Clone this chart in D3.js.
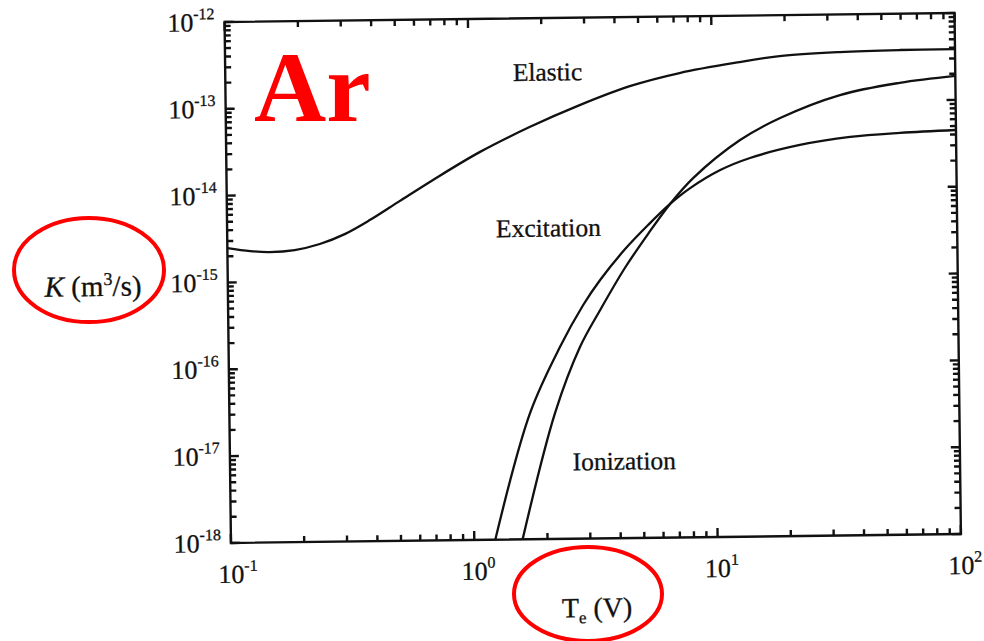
<!DOCTYPE html>
<html>
<head>
<meta charset="utf-8">
<script src="https://cdn.jsdelivr.net/npm/d3@7"></script>
<style>
  html, body { margin: 0; padding: 0; background: #fff; }
  svg { display: block; }
  text { font-family: "Liberation Serif", "Times New Roman", serif; fill: #111; }
</style>
</head>
<body>
<svg id="chart" width="984" height="641"></svg>
<script>
// ---- Data ----
const elasticT = [0.1, 0.124, 0.149, 0.189, 0.24, 0.304, 0.386, 0.513, 0.703, 1.10, 1.77, 2.85, 4.59, 7.36, 13.0, 19.0, 33.6, 59.3, 100];
const elasticK = [2.49e-15, 2.28e-15, 2.21e-15, 2.31e-15, 2.69e-15, 3.47e-15, 4.99e-15, 8.18e-15, 1.41e-14, 2.92e-14, 5.59e-14, 9.84e-14, 1.60e-13, 2.23e-13, 2.92e-13, 3.38e-13, 3.69e-13, 3.82e-13, 3.85e-13];

const excitationT = [1.22, 1.72, 2.30, 2.88, 3.39, 4.31, 5.37, 6.63, 8.03, 10.7, 14.2, 22.8, 36.7, 58.9, 100];
const excitationK = [1.0e-18, 2.84e-17, 1.62e-16, 4.9e-16, 9.46e-16, 2.13e-15, 4.0e-15, 6.95e-15, 1.05e-14, 1.68e-14, 2.29e-14, 3.18e-14, 3.87e-14, 4.24e-14, 4.5e-14];

const ionizationT = [1.58, 2.18, 2.78, 3.38, 4.29, 5.36, 6.63, 8.27, 12.95, 18.97, 33.5, 59.0, 100];
const ionizationK = [1.0e-18, 2.83e-17, 1.61e-16, 4.27e-16, 1.29e-15, 3.15e-15, 6.95e-15, 1.37e-14, 3.70e-14, 6.55e-14, 1.18e-13, 1.60e-13, 1.89e-13];

const xTickExponents = [-1, 0, 1, 2];
const yTickExponents = [-12, -13, -14, -15, -16, -17, -18];
const minorMultipliers = [1, 2, 3, 4, 5, 6, 7, 8, 9];

const seriesNames = ["Elastic", "Excitation", "Ionization"];

// ---- Layout ----
const frame = { left: 227.75, right: 957.75, top: 17.5, bottom: 538.5 };
const cx = (frame.left + frame.right) / 2, cy = (frame.top + frame.bottom) / 2;
const tilt = -0.7; // the scanned figure is slightly rotated

const svg = d3.select("#chart");

const x = d3.scaleLog().domain([0.1, 100]).range([frame.left, frame.right]);
const y = d3.scaleLog().domain([1e-18, 1e-12]).range([frame.bottom, frame.top]);

const g = svg.append("g").attr("transform", `rotate(${tilt},${cx},${cy})`);

g.append("defs").append("clipPath").attr("id", "plotclip")
  .append("rect")
  .attr("x", frame.left).attr("y", frame.top)
  .attr("width", frame.right - frame.left).attr("height", frame.bottom - frame.top);

// Tick values: every 1..9 multiple inside each decade
const xTickVals = [];
xTickExponents.forEach(e => minorMultipliers.forEach(m => {
  const v = m * Math.pow(10, e);
  if (v >= 0.1 - 1e-12 && v <= 100 + 1e-9) xTickVals.push(v);
}));
const yTickVals = [];
yTickExponents.forEach(e => minorMultipliers.forEach(m => {
  const v = m * Math.pow(10, e);
  if (v >= 1e-18 * (1 - 1e-9) && v <= 1e-12 * (1 + 1e-9)) yTickVals.push(v);
}));
const isMajor = v => Math.abs(Math.log10(v) - Math.round(Math.log10(v))) < 1e-6;

// Tick marks (inward on all four sides)
const tickRects = [];
xTickVals.forEach(v => {
  const px = x(v), len = isMajor(v) ? 9 : 6;
  tickRects.push({ x: px - 1.2, y: frame.bottom - len, w: 2.4, h: len });
  tickRects.push({ x: px - 1.2, y: frame.top, w: 2.4, h: len });
});
yTickVals.forEach(v => {
  const py = y(v), len = isMajor(v) ? 9 : 6;
  tickRects.push({ x: frame.left, y: py - 1.2, w: len, h: 2.4 });
  tickRects.push({ x: frame.right - len, y: py - 1.2, w: len, h: 2.4 });
});
g.append("g").attr("id", "ticklayer")
  .selectAll("rect").data(tickRects).join("rect")
  .attr("x", d => d.x).attr("y", d => d.y).attr("width", d => d.w).attr("height", d => d.h)
  .attr("fill", "#111");

// Frame
g.append("rect")
  .attr("x", frame.left).attr("y", frame.top)
  .attr("width", frame.right - frame.left).attr("height", frame.bottom - frame.top)
  .attr("fill", "none").attr("stroke", "#111").attr("stroke-width", 2.4);

// Tick labels
const fs = 26, fsExp = 16;
xTickExponents.forEach(e => {
  const t = g.append("text").attr("x", x(Math.pow(10, e)) - fs / 2).attr("y", frame.bottom + 40)
    .attr("font-size", fs).attr("stroke", "#111").attr("stroke-width", 0.3);
  t.append("tspan").text("10");
  t.append("tspan").attr("font-size", fsExp).attr("dy", -12).text(String(e));
});
yTickExponents.forEach(e => {
  const t = g.append("text").attr("x", frame.left - 10).attr("y", y(Math.pow(10, e)) + 9)
    .attr("font-size", fs).attr("text-anchor", "end").attr("stroke", "#111").attr("stroke-width", 0.3);
  t.append("tspan").text("10");
  t.append("tspan").attr("font-size", fsExp).attr("dy", -12).text(String(e));
});

// Curves
const line = d3.line().x(d => x(d[0])).y(d => y(d[1])).curve(d3.curveCatmullRom.alpha(0.5));
const series = [
  d3.zip(elasticT, elasticK),
  d3.zip(excitationT, excitationK),
  d3.zip(ionizationT, ionizationK)
];
g.append("g").attr("clip-path", "url(#plotclip)")
  .selectAll("path").data(series).join("path")
  .attr("d", line)
  .attr("fill", "none").attr("stroke", "#111").attr("stroke-width", 2.3);

// Curve labels
const labelPos = [[550, 80], [549, 236], [622, 470]];
seriesNames.forEach((name, i) => {
  g.append("text").attr("x", labelPos[i][0]).attr("y", labelPos[i][1])
    .attr("text-anchor", "middle").attr("font-size", 25.5)
    .attr("stroke", "#111").attr("stroke-width", 0.3).text(name);
});

// Axis titles
const yt = g.append("text").attr("x", 93).attr("y", 290).attr("text-anchor", "middle").attr("font-size", 29)
  .attr("stroke", "#111").attr("stroke-width", 0.3);
yt.append("tspan").attr("font-style", "italic").text("K");
yt.append("tspan").text(" (m");
yt.append("tspan").attr("font-size", 18).attr("dy", -11).text("3");
yt.append("tspan").attr("dy", 11).text("/s)");

const xt = g.append("text").attr("x", 593).attr("y", 617).attr("text-anchor", "middle").attr("font-size", 28)
  .attr("stroke", "#111").attr("stroke-width", 0.3);
xt.append("tspan").text("T");
xt.append("tspan").attr("font-size", 17).attr("dy", 6).text("e");
xt.append("tspan").attr("dy", -6).text(" (V)");

// Red annotations
svg.append("text").attr("x", 254).attr("y", 121)
  .attr("font-size", 100).attr("font-weight", "bold")
  .style("fill", "#f00").text("Ar");
svg.append("ellipse").attr("cx", 89).attr("cy", 270).attr("rx", 75).attr("ry", 52)
  .attr("fill", "none").attr("stroke", "#f00").attr("stroke-width", 4);
svg.append("ellipse").attr("cx", 588).attr("cy", 594).attr("rx", 74).attr("ry", 47)
  .attr("fill", "none").attr("stroke", "#f00").attr("stroke-width", 4);
</script>
</body>
</html>
